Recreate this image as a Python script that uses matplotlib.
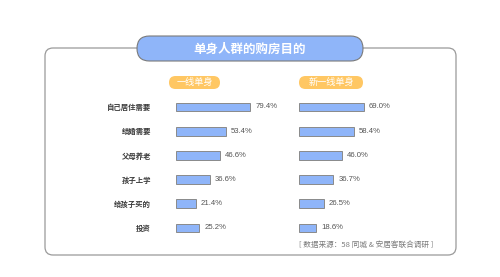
import matplotlib.pyplot as plt
from matplotlib.patches import FancyBboxPatch

plt.rcParams["font.family"] = ["Noto Sans CJK SC", "DejaVu Sans"]

title = "单身人群的购房目的"
groups = ["一线单身", "新一线单身"]
categories = ["自己居住需要", "结婚需要", "父母养老", "孩子上学", "给孩子买的", "投资"]
tier1 = [79.4, 53.4, 46.6, 36.6, 21.4, 25.2]
new_tier1 = [69.0, 58.4, 46.0, 36.7, 26.5, 18.6]
source = "[ 数据来源：58 同城 & 安居客联合调研 ]"

BLUE = "#8fb5f9"
ORANGE = "#ffc763"
W, H = 500, 277

fig = plt.figure(figsize=(W / 100, H / 100), dpi=100)

# background layer in pixel coords (y down)
bg = fig.add_axes([0, 0, 1, 1])
bg.set_xlim(0, W)
bg.set_ylim(H, 0)
bg.axis("off")

bg.add_patch(FancyBboxPatch((45, 48), 411, 207,
                            boxstyle="round,pad=0,rounding_size=8",
                            fc="white", ec="#9a9a9a", lw=0.9))
bg.add_patch(FancyBboxPatch((137, 36), 226, 25,
                            boxstyle="round,pad=0,rounding_size=12.5",
                            fc=BLUE, ec="#7a7a7a", lw=0.8, zorder=3))
bg.text(250, 49, title, color="white", fontsize=9, fontweight="bold",
        ha="center", va="center", zorder=4)

pill_x = [169, 299]
pill_w = [51, 64]
for x, w, g in zip(pill_x, pill_w, groups):
    bg.add_patch(FancyBboxPatch((x, 76), w, 13,
                                boxstyle="round,pad=0,rounding_size=6.5",
                                fc=ORANGE, ec="none", zorder=3))
    bg.text(x + w / 2, 82.7, g, color="white", fontsize=6.6,
            ha="center", va="center", zorder=4)

bg.text(433, 245, source, color="#7a7a7a", fontsize=5.5,
        ha="right", va="center")

# bar panels
px_per_pct = 0.94
row_h = 24.2
top = 107 - row_h / 2
ax_h = row_h * len(categories)
panels = [(175.7, tier1), (299, new_tier1)]

for i, (x0, vals) in enumerate(panels):
    ax = fig.add_axes([x0 / W, 1 - (top + ax_h) / H, 100 * px_per_pct / W, ax_h / H])
    ax.set_xlim(0, 100)
    ax.set_ylim(len(categories) - 0.5, -0.5)
    ax.patch.set_alpha(0)
    ypos = range(len(categories))
    ax.barh(ypos, vals, height=0.37, color=BLUE, edgecolor="#8a8a8a", linewidth=0.7)
    for y, v in zip(ypos, vals):
        ax.annotate(f"{v:.1f}%", (v, y), xytext=(3.6, 0), textcoords="offset points",
                    ha="left", va="center", fontsize=5.6, color="#555555",
                    family=["Liberation Sans", "Noto Sans CJK SC"])
    for s in ax.spines.values():
        s.set_visible(False)
    ax.set_xticks([])
    if i == 0:
        ax.set_yticks(list(ypos))
        ax.set_yticklabels(categories, fontsize=5.3, fontweight="bold", color="#3a3a3a")
        ax.tick_params(axis="y", length=0, pad=17.8)
    else:
        ax.set_yticks([])

fig.savefig("out.png", dpi=100)
